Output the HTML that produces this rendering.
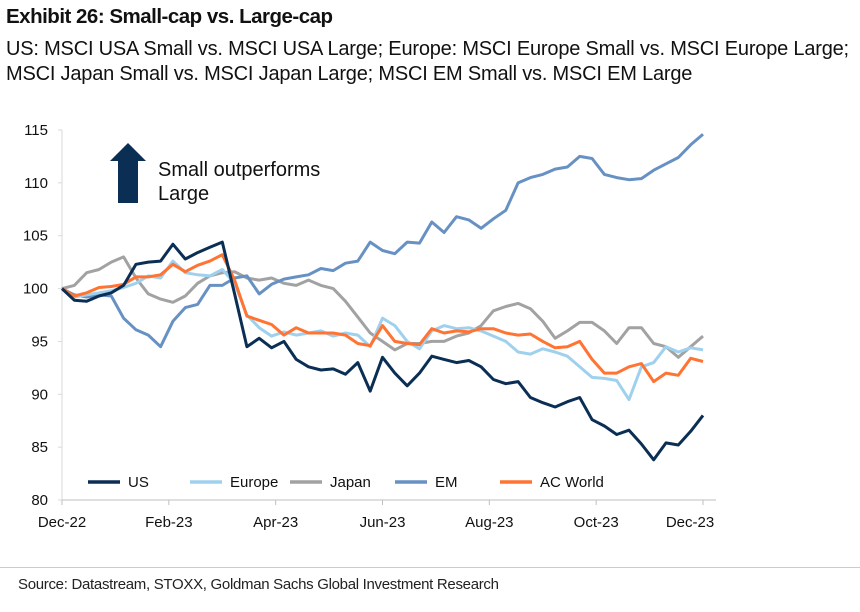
<!DOCTYPE html>
<html><head><meta charset="utf-8"><style>
body{margin:0;background:#fff;width:860px;height:612px;overflow:hidden;font-family:"Liberation Sans",Arial,sans-serif}
#title{position:absolute;left:6px;top:5px;font-size:20.5px;font-weight:bold;color:#111;letter-spacing:-0.5px}
#sub{position:absolute;left:6px;top:37px;font-size:20px;line-height:25px;color:#111;letter-spacing:-0.2px}
#src{position:absolute;left:18px;top:576px;font-size:15px;color:#222;letter-spacing:-0.3px}
#sep{position:absolute;left:0;top:567px;width:860px;height:1px;background:#ccc}
</style></head><body>
<div id="title">Exhibit 26: Small-cap vs. Large-cap</div>
<div id="sub">US: MSCI USA Small vs. MSCI USA Large; Europe: MSCI Europe Small vs. MSCI Europe Large;<br>MSCI Japan Small vs. MSCI Japan Large; MSCI EM Small vs. MSCI EM Large</div>
<svg id="chart" width="860" height="612" style="position:absolute;left:0;top:0"></svg>
<div id="sep"></div>
<div id="src">Source: Datastream, STOXX, Goldman Sachs Global Investment Research</div>
<script>
const xTickLabels=["Dec-22","Feb-23","Apr-23","Jun-23","Aug-23","Oct-23","Dec-23"];
const yTicks=[80,85,90,95,100,105,110,115];
const seriesNames=["US","Europe","Japan","EM","AC World"];
const us=[100,98.9,98.8,99.3,99.6,100.3,102.3,102.5,102.6,104.2,102.8,103.4,103.9,104.4,99.5,94.5,95.3,94.4,95.0,93.3,92.6,92.3,92.4,91.9,93.0,90.3,93.5,92.0,90.8,92.0,93.6,93.3,93.0,93.2,92.6,91.4,91.0,91.2,89.7,89.2,88.8,89.3,89.7,87.6,87.0,86.2,86.6,85.3,83.8,85.4,85.2,86.5,88.0];
const europe=[100,99.2,99.4,99.6,99.8,100.1,100.5,101.2,101.0,102.6,101.5,101.3,101.2,101.8,100.5,97.5,96.3,95.5,95.9,95.6,95.8,96.0,95.5,95.8,95.6,94.5,97.2,96.5,95.0,94.3,96.0,96.5,96.2,96.3,96.0,95.5,95.0,94.0,93.8,94.3,94.0,93.6,92.6,91.6,91.5,91.3,89.5,92.6,93.0,94.5,94.0,94.4,94.2];
const japan=[100,100.3,101.5,101.8,102.5,103.0,101.0,99.5,99.0,98.7,99.3,100.5,101.2,101.5,101.6,101.0,100.8,101.0,100.5,100.3,100.8,100.3,100.0,98.8,97.3,95.8,95.0,94.2,94.8,94.8,95.0,95.0,95.5,95.8,96.5,97.9,98.3,98.6,98.1,96.9,95.3,96.0,96.8,96.8,96.0,94.8,96.3,96.3,94.8,94.5,93.5,94.5,95.5];
const em=[100,99.4,99.2,99.4,99.3,97.2,96.1,95.6,94.5,96.9,98.2,98.5,100.3,100.3,101.0,101.2,99.5,100.4,100.9,101.1,101.3,101.9,101.7,102.4,102.6,104.4,103.6,103.3,104.4,104.3,106.3,105.3,106.8,106.5,105.7,106.6,107.4,110.0,110.5,110.8,111.3,111.5,112.5,112.3,110.8,110.5,110.3,110.4,111.2,111.8,112.4,113.6,114.6];
const acWorld=[100,99.3,99.6,100.1,100.2,100.4,101.1,101.1,101.3,102.3,101.6,102.2,102.6,103.2,100.8,97.4,97.0,96.6,95.6,96.3,95.8,95.8,95.8,95.6,94.8,94.6,96.5,95.0,94.8,94.7,96.2,95.8,96.0,95.9,96.2,96.2,95.8,95.6,95.7,95.0,94.4,94.5,95.0,93.3,92.0,92.0,92.6,92.9,91.2,92.0,91.8,93.4,93.1];
const colors=["#0b2e55","#9fd1ef","#a2a2a2","#6791c3","#ff7433"];
const NS="http://www.w3.org/2000/svg";
const svg=document.getElementById('chart');
const X0=62,X1=703,Y0=80,Y1=115,PY0=500,PY1=130;
const xw=i=>X0+(X1-X0)*i/52;
const xm=m=>X0+(X1-X0)*m/12;
const y=v=>PY0-(v-Y0)/(Y1-Y0)*(PY0-PY1);
function mk(t,a){const e=document.createElementNS(NS,t);for(const k in a)e.setAttribute(k,a[k]);svg.appendChild(e);return e;}
let ax=mk('line',{x1:X0,y1:PY1,x2:X0,y2:PY0,stroke:'#d9d9d9','stroke-width':1});


let bx=mk('line',{x1:X0,y1:PY0,x2:716,y2:PY0,stroke:'#bfbfbf','stroke-width':1});


yTicks.forEach(v=>{
 let tk=mk('line',{x1:X0-4,y1:y(v),x2:X0,y2:y(v),stroke:'#d9d9d9'});
 
 
 let t=mk('text',{x:48,y:y(v)+5,'text-anchor':'end','font-size':'15','fill':'#111'});
 t.textContent=v;
 
 
});
xTickLabels.forEach((l,i)=>{
 let tk=mk('line',{x1:xm(i*2),y1:PY0,x2:xm(i*2),y2:PY0+5,stroke:'#bfbfbf'});
 
 
 let t=mk('text',{x:Math.min(xm(i*2),690),y:527,'text-anchor':'middle','font-size':'15','fill':'#111'});
 t.textContent=l;
 
 
});
const data=[us,europe,japan,em,acWorld];
[2,3,1,4,0].forEach(s=>{
 const d=data[s].map((v,i)=>(i?'L':'M')+xw(i).toFixed(1)+','+y(v).toFixed(1)).join('');
 let p=mk('path',{d:d,fill:'none',stroke:colors[s],'stroke-width':3,'stroke-linejoin':'round'});
 
 
});
const legX=[88,190,290,395,500];
seriesNames.forEach((n,i)=>{
 let l=mk('line',{x1:legX[i],y1:482,x2:legX[i]+32,y2:482,stroke:colors[i],'stroke-width':3.5});
 
 
 let t=mk('text',{x:legX[i]+40,y:487,'font-size':'15','fill':'#111'});
 t.textContent=n;
 
 
});
let ar=mk('polygon',{points:'128,143 146,161 138,161 138,203 118,203 118,161 110,161',fill:'#0b2e55'});


let a1=mk('text',{x:158,y:176,'font-size':'20','fill':'#111'});
a1.textContent='Small outperforms';


let a2=mk('text',{x:158,y:200,'font-size':'20','fill':'#111'});
a2.textContent='Large';


</script>
</body></html>
